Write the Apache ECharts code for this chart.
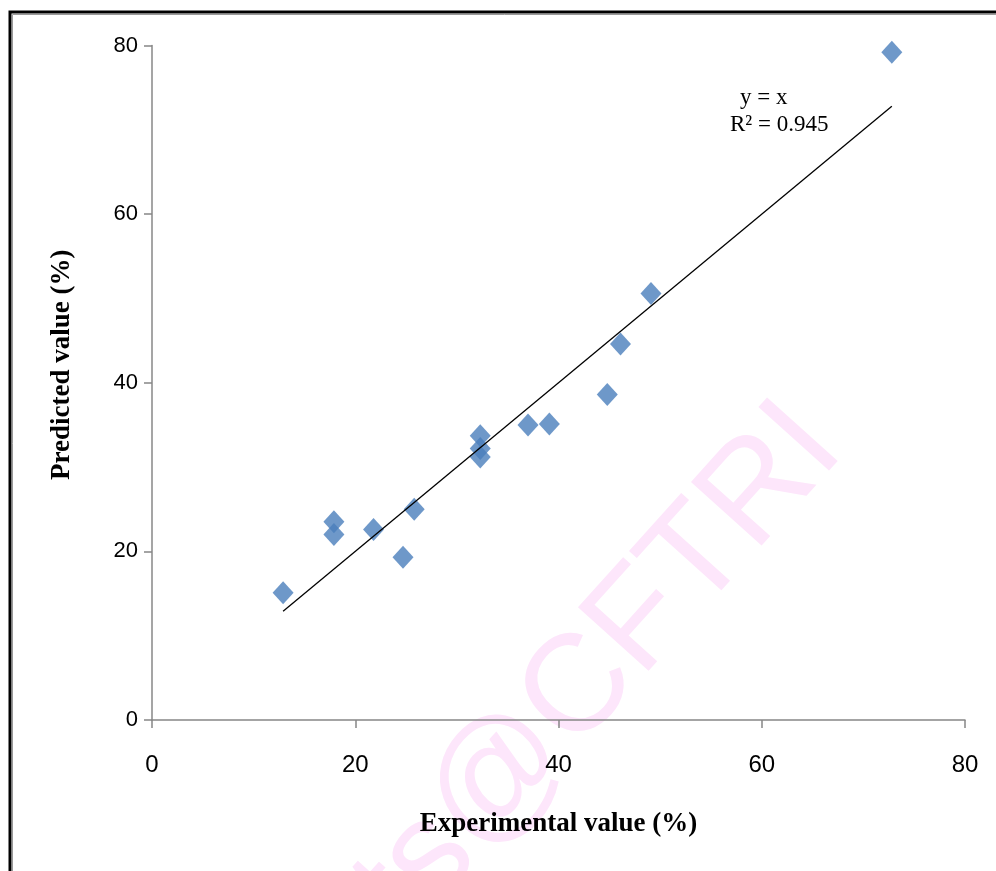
<!DOCTYPE html>
<html>
<head>
<meta charset="utf-8">
<script src="https://cdn.jsdelivr.net/npm/echarts@6/dist/echarts.min.js"></script>
<style>
html,body{margin:0;padding:0;background:#fff;}
#chart{width:996px;height:871px;}
</style>
</head>
<body>
<div id="chart"></div>
<script>
// Data
const experimental = [12.9, 17.9, 17.9, 21.8, 24.7, 25.8, 32.3, 32.3, 32.3, 37.0, 39.1, 44.8, 46.1, 49.1, 72.8];
const predicted    = [15.1, 23.5, 22.0, 22.6, 19.3, 25.0, 33.7, 32.2, 31.2, 35.0, 35.1, 38.6, 44.6, 50.6, 79.2];
const axisTicks = [0, 20, 40, 60, 80];
const xTitle = 'Experimental value (%)';
const yTitle = 'Predicted value (%)';
const eqText = 'y = x';
const r2Text = 'R² = 0.945';
const watermark = 'ts@CFTRI';

const points = experimental.map((x, i) => [x, predicted[i]]);
const xMin = Math.min(...experimental), xMax = Math.max(...experimental);
const trend = [[xMin, xMin], [xMax, xMax]];

const chart = echarts.init(document.getElementById('chart'), null, {renderer: 'canvas'});
const axisCommon = {
  type: 'value',
  min: axisTicks[0],
  max: axisTicks[axisTicks.length - 1],
  interval: 20,
  splitLine: {show: false},
  axisLine: {show: true, lineStyle: {color: '#878787', width: 1.5}},
  axisTick: {show: true, length: 8, lineStyle: {color: '#878787', width: 1.5}}
};
chart.setOption({
  animation: false,
  backgroundColor: '#fff',
  grid: {left: 152, right: 31, top: 45.5, bottom: 151, containLabel: false},
  xAxis: Object.assign({}, axisCommon, {
    name: xTitle,
    nameLocation: 'middle',
    nameGap: 91,
    nameTextStyle: {fontFamily: '"Liberation Serif", "Times New Roman", serif', fontWeight: 'bold', fontSize: 27, color: '#000'},
    axisLabel: {margin: 33, fontFamily: '"Liberation Sans Narrow", "Arial Narrow", "Liberation Sans", sans-serif', fontSize: 24, color: '#000'}
  }),
  yAxis: Object.assign({}, axisCommon, {
    name: yTitle,
    nameLocation: 'middle',
    nameGap: 76,
    nameTextStyle: {fontFamily: '"Liberation Serif", "Times New Roman", serif', fontWeight: 'bold', fontSize: 27, color: '#000', padding: [0, 0, 0, 36]},
    axisLabel: {margin: 14, fontFamily: '"Liberation Sans Narrow", "Arial Narrow", "Liberation Sans", sans-serif', fontSize: 22, color: '#000'}
  }),
  graphic: [
    {type: 'text', z: -10, x: 818, y: 426, rotation: 48 * Math.PI / 180,
     style: {text: watermark, fill: '#fde6fb', font: '138px "Liberation Sans", Arial, sans-serif', textAlign: 'right', textVerticalAlign: 'middle'}},
    {type: 'rect', z: 100, shape: {x: 10, y: 12, width: 1100, height: 1000}, style: {fill: 'none', stroke: '#000', lineWidth: 3}},
    {type: 'rect', z: 100, shape: {x: 12.5, y: 14.5, width: 1100, height: 1000}, style: {fill: 'none', stroke: '#9a9a9a', lineWidth: 1}},
    {type: 'text', z: 50, x: 740, y: 98, style: {text: eqText, fill: '#000', font: '23px "Liberation Serif", "Times New Roman", serif', textAlign: 'left', textVerticalAlign: 'middle'}},
    {type: 'text', z: 50, x: 730, y: 125, style: {text: r2Text, fill: '#000', font: '23px "Liberation Serif", "Times New Roman", serif', textAlign: 'left', textVerticalAlign: 'middle'}}
  ],
  series: [
    {
      type: 'line',
      data: trend,
      symbol: 'none',
      lineStyle: {color: '#000', width: 1.3},
      z: 3,
      silent: true
    },
    {
      type: 'scatter',
      data: points,
      symbol: 'diamond',
      symbolSize: [21, 23],
      itemStyle: {color: '#4a7ebb'},
      z: 2
    }
  ]
});
</script>
</body>
</html>
